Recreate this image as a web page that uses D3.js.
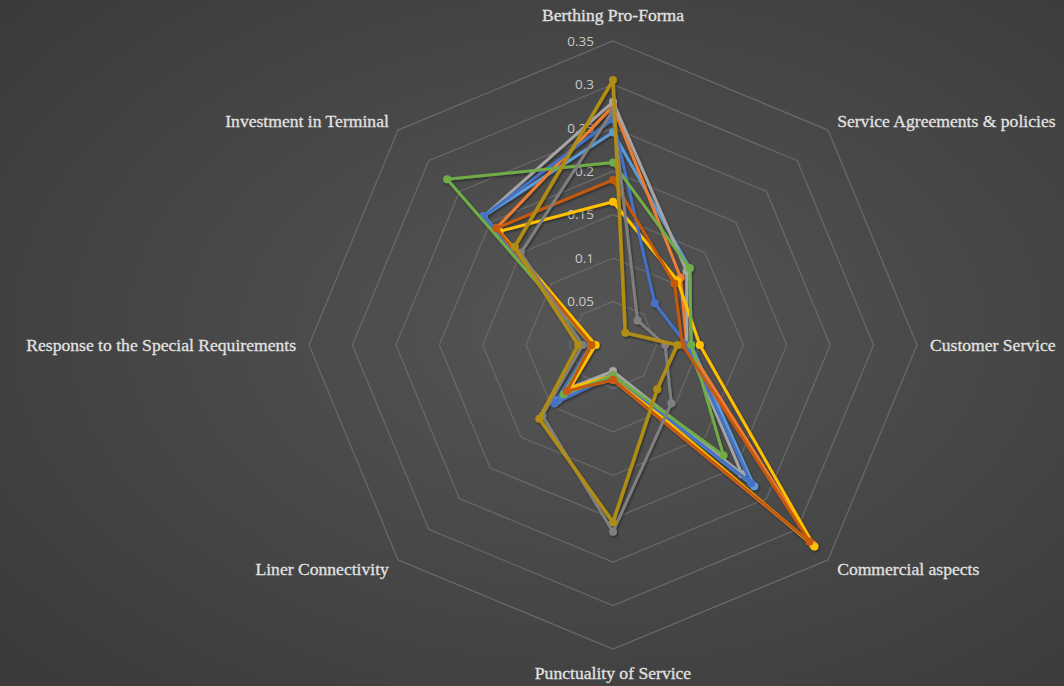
<!DOCTYPE html>
<html>
<head>
<meta charset="utf-8">
<script src="https://cdn.jsdelivr.net/npm/d3@7"></script>
<style>
  html, body { margin: 0; padding: 0; background: #444; }
  svg { display: block; }
</style>
</head>
<body>
<svg id="chart" width="1064" height="686"></svg>
<script>
// Evaluation criteria around the radar
const categories = [
  "Berthing Pro-Forma",
  "Service Agreements & policies",
  "Customer Service",
  "Commercial aspects",
  "Punctuality of Service",
  "Liner Connectivity",
  "Response to the Special Requirements",
  "Investment in Terminal"
];

// Radial axis ticks
const tickValues = [0, 0.05, 0.1, 0.15, 0.2, 0.25, 0.3, 0.35];
const tickLabels = ["0", "0.05", "0.1", "0.15", "0.2", "0.25", "0.3", "0.35"];

// Weights per series, in category order
const series1 = [0.245, 0.125, 0.090, 0.230, 0.035, 0.090, 0.025, 0.210];
const series2 = [0.275, 0.110, 0.085, 0.325, 0.040, 0.075, 0.025, 0.190];
const series3 = [0.280, 0.120, 0.085, 0.210, 0.030, 0.070, 0.025, 0.210];
const series4 = [0.165, 0.105, 0.100, 0.328, 0.035, 0.070, 0.020, 0.185];
const series5 = [0.260, 0.068, 0.085, 0.225, 0.035, 0.095, 0.025, 0.210];
const series6 = [0.210, 0.125, 0.090, 0.180, 0.035, 0.080, 0.025, 0.270];
const series7 = [0.190, 0.100, 0.080, 0.320, 0.040, 0.075, 0.025, 0.190];
const series8 = [0.270, 0.040, 0.060, 0.095, 0.215, 0.115, 0.035, 0.150];
const series9 = [0.305, 0.020, 0.074, 0.072, 0.204, 0.120, 0.040, 0.160];

const seriesColors = ["#5B9BD5", "#ED7D31", "#A5A5A5", "#FFC000", "#4472C4",
                      "#70AD47", "#C55A11", "#7F7F7F", "#B08D12"];
const allSeries = [series1, series2, series3, series4, series5,
                   series6, series7, series8, series9];

const W = 1064, H = 686;
const cx = 613, cy = 345, R = 304;

const svg = d3.select("#chart");

// Background with a soft radial falloff
const defs = svg.append("defs");
const grad = defs.append("radialGradient").attr("id", "bg")
  .attr("cx", "55%").attr("cy", "48%").attr("r", "70%");
grad.append("stop").attr("offset", "0%").attr("stop-color", "#555555");
grad.append("stop").attr("offset", "100%").attr("stop-color", "#3b3b3b");
svg.append("rect").attr("width", W).attr("height", H).attr("fill", "url(#bg)");

const shadow = defs.append("filter").attr("id", "shadow")
  .attr("x", "-10%").attr("y", "-10%").attr("width", "120%").attr("height", "120%");
shadow.append("feDropShadow").attr("dx", 1).attr("dy", 1.5)
  .attr("stdDeviation", 1.2).attr("flood-color", "#000").attr("flood-opacity", 0.45);

const r = d3.scaleLinear().domain([0, 0.35]).range([0, R]);
const n = categories.length;
const angle = i => i * 2 * Math.PI / n;

const g = svg.append("g").attr("transform", `translate(${cx},${cy})`);

// Octagonal gridlines
const ring = d3.lineRadial()
  .angle((d, i) => angle(i))
  .radius(d => r(d))
  .curve(d3.curveLinearClosed);

g.append("g").selectAll("path")
  .data(tickValues.filter(v => v > 0))
  .join("path")
  .attr("d", v => ring(categories.map(() => v)))
  .attr("fill", "none")
  .attr("stroke", "#686868")
  .attr("stroke-width", 1.3);

// Tick labels along the top axis
g.append("g").selectAll("text")
  .data(tickValues)
  .join("text")
  .attr("x", -19)
  .attr("y", v => -r(v))
  .attr("dy", "0.35em")
  .attr("text-anchor", "end")
  .attr("font-family", "'Open Sans', sans-serif")
  .attr("font-size", 13.5)
  .attr("fill", "#c8c8c8")
  .text((v, i) => tickLabels[i]);

// Category labels
const labelR = R + 13;
g.append("g").selectAll("text")
  .data(categories)
  .join("text")
  .attr("x", (d, i) => labelR * Math.sin(angle(i)))
  .attr("y", (d, i) => -labelR * Math.cos(angle(i)))
  .attr("dy", (d, i) => {
    const c = Math.cos(angle(i));
    if (c > 0.9) return "-0.4em";
    if (c < -0.9) return "0.95em";
    return "0.35em";
  })
  .attr("text-anchor", (d, i) => {
    const s = Math.sin(angle(i));
    return s > 0.1 ? "start" : (s < -0.1 ? "end" : "middle");
  })
  .attr("font-family", "'Liberation Serif', serif")
  .attr("font-size", 17.6)
  .attr("fill", "#e2e2e2")
  .attr("stroke", "#e2e2e2")
  .attr("stroke-width", 0.3)
  .text(d => d);

// Series polygons and markers
const line = d3.lineRadial()
  .angle((d, i) => angle(i))
  .radius(d => r(d))
  .curve(d3.curveLinearClosed);

const sg = g.append("g").attr("filter", "url(#shadow)");
allSeries.forEach((vals, k) => {
  const col = seriesColors[k];
  sg.append("path")
    .attr("d", line(vals))
    .attr("fill", "none")
    .attr("stroke", col)
    .attr("stroke-width", k === 8 ? 3.6 : 3)
    .attr("stroke-linejoin", "round");
  sg.append("g").selectAll("circle")
    .data(vals)
    .join("circle")
    .attr("cx", (d, i) => r(d) * Math.sin(angle(i)))
    .attr("cy", (d, i) => -r(d) * Math.cos(angle(i)))
    .attr("r", 4)
    .attr("fill", col);
});
</script>
</body>
</html>
